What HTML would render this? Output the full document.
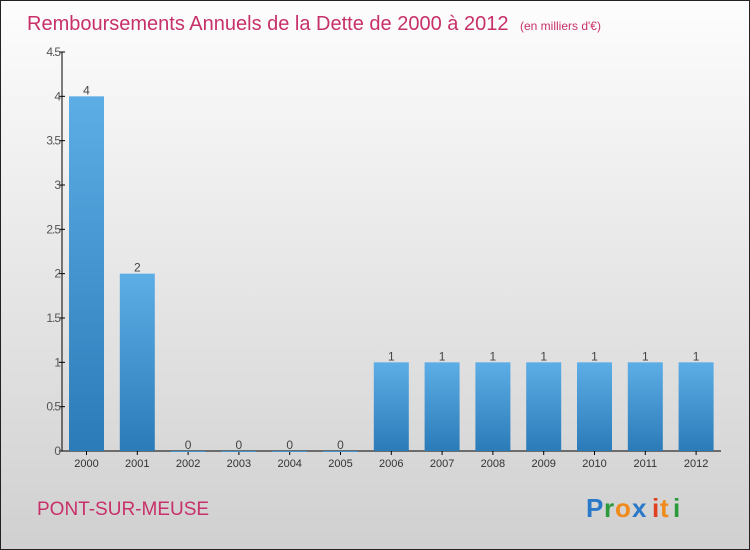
<!DOCTYPE html>
<html><head><meta charset="utf-8"><style>
body{margin:0;}
#wrap{width:750px;height:550px;position:relative;overflow:hidden;font-family:"Liberation Sans",sans-serif;
background:linear-gradient(#fdfdfd,#d0d0d0);border:1px solid #222;box-sizing:border-box;}
svg text{font-family:"Liberation Sans",sans-serif;}
</style></head><body>
<div id="wrap">
<svg id="chart" width="750" height="550">
<defs><linearGradient id="bg" x1="0" y1="0" x2="0" y2="1"><stop offset="0" stop-color="#5dade6"/><stop offset="1" stop-color="#2a7bb8"/></linearGradient></defs>
<text x="26" y="29" font-size="20" fill="#c8306a">Remboursements Annuels de la Dette de 2000 à 2012 <tspan font-size="12" dx="6">(en milliers d'€)</tspan></text>
<text x="36" y="514" font-size="19" fill="#c8306a">PONT-SUR-MEUSE</text>
<g font-size="26" font-weight="bold">
<text x="585" y="516" fill="#2a78c8">P</text><text x="603" y="516" fill="#2a9a3a">r</text><text x="614" y="516" fill="#f08a1a">o</text><text x="631" y="516" fill="#2a78c8">x</text><text x="651" y="516" fill="#e04020">i</text><text x="659" y="516" fill="#f08a1a">t</text><text x="672" y="516" fill="#2a9a3a">i</text>
</g>
<g id="axes"></g><g id="bars"></g>
</svg>
</div>
<script>
const categories=["2000","2001","2002","2003","2004","2005","2006","2007","2008","2009","2010","2011","2012"];
const values=[4,2,0,0,0,0,1,1,1,1,1,1,1];
const valueLabels=["4","2","0","0","0","0","1","1","1","1","1","1","1"];
const yTicks=[0,0.5,1,1.5,2,2.5,3,3.5,4,4.5];
const yTickLabels=["0","0.5","1","1.5","2","2.5","3","3.5","4","4.5"];
const NS="http://www.w3.org/2000/svg";
const y0=450,yTop=51,yMax=4.5,xStart=61,step=50.8,bw=35;
function yS(v){return y0-(y0-yTop)*v/yMax;}
function xS(i){return xStart+24.5+i*step;}
function mk(t,a,p){const e=document.createElementNS(NS,t);for(const k in a)e.setAttribute(k,a[k]);p.appendChild(e);return e;}
const ax=document.getElementById('axes'),bars=document.getElementById('bars');
let l=mk('line',{x1:xStart,y1:yTop,x2:xStart,y2:y0,stroke:'#000'},ax);


l=mk('line',{x1:xStart,y1:y0,x2:720,y2:y0,stroke:'#000'},ax);


yTicks.forEach((v,i)=>{
  const t=mk('line',{x1:xStart-3,x2:xStart+3,y1:yS(v),y2:yS(v),stroke:'#000'},ax);
  
  
  const tx=mk('text',{x:xStart-2,y:yS(v)+4,'font-size':12,fill:'#555','text-anchor':'end','letter-spacing':'-1'},ax);
  tx.textContent=yTickLabels[i];
  
  
});
categories.forEach((c,i)=>{
  const cx=xS(i);
  const t=mk('line',{x1:cx,x2:cx,y1:y0,y2:y0+4,stroke:'#000'},ax);
  
  
  const tx=mk('text',{x:cx,y:y0+16,'font-size':11,fill:'#333','text-anchor':'middle'},ax);
  tx.textContent=c;
  
  
  const h=y0-yS(values[i]);
  const r=mk('rect',{x:cx-bw/2,y:yS(values[i]),width:bw,height:Math.max(h,1),fill:'url(#bg)'},bars);
  
  
  const vl=mk('text',{x:cx,y:yS(values[i])-2,'font-size':12,fill:'#444','text-anchor':'middle'},bars);
  vl.textContent=valueLabels[i];
  
  
});
</script>
</body></html>
